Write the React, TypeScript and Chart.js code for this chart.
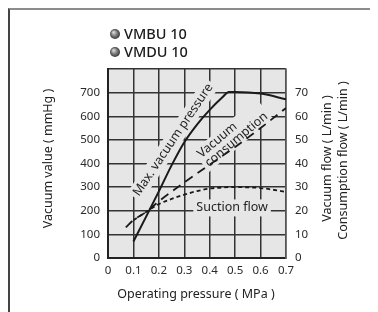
import React, { useEffect, useRef } from "react";
import { Chart, registerables } from "chart.js";

Chart.register(...registerables);

// ---- data ----
const legendItems = ["VMBU 10", "VMDU 10"];

const maxVacX = [0.1, 0.15, 0.2, 0.25, 0.3, 0.35, 0.4, 0.45, 0.475, 0.5, 0.6, 0.7];
const maxVacY = [70, 175, 282, 392, 490, 565, 627, 680, 703, 703, 696, 672];

const consX = [0.07, 0.1, 0.15, 0.2, 0.3, 0.4, 0.5, 0.6, 0.7];
const consY = [13, 16, 19.5, 24, 32, 39.5, 47, 55, 63.5];

const suctX = [0.1, 0.15, 0.2, 0.25, 0.3, 0.35, 0.4, 0.5, 0.6, 0.7];
const suctY = [16, 19.5, 22.8, 25, 26.8, 28.3, 29.4, 30, 29.6, 28];

const leftTicks = [0, 100, 200, 300, 400, 500, 600, 700];
const rightTicks = [0, 10, 20, 30, 40, 50, 60, 70];
const xTicks = [0, 0.1, 0.2, 0.3, 0.4, 0.5, 0.6, 0.7];

const leftTitle = "Vacuum value ( mmHg )";
const rightTitles = ["Vacuum flow ( L/min )", "Consumption flow ( L/min )"];
const bottomTitle = "Operating pressure ( MPa )";

const FONT = '"Noto Sans", "Open Sans", sans-serif';
const PLOT_BG = "#e6e6e6";
const TEXT = "#222";

const toPts = (xs: number[], ys: number[]) => xs.map((x, i) => ({ x, y: ys[i] }));

function drawBoxedText(
  ctx: CanvasRenderingContext2D,
  lines: string[],
  cx: number,
  cy: number,
  angleDeg: number,
  lineH: number,
  align: "center" | "left"
) {
  ctx.save();
  ctx.translate(cx, cy);
  ctx.rotate((angleDeg * Math.PI) / 180);
  ctx.font = `12.5px ${FONT}`;
  const widths = lines.map((l) => ctx.measureText(l).width);
  const maxW = Math.max(...widths);
  const totalH = lineH * lines.length;
  ctx.fillStyle = PLOT_BG;
  ctx.fillRect(-maxW / 2 - 3, -totalH / 2 - 1, maxW + 6, totalH + 2);
  ctx.fillStyle = TEXT;
  ctx.textBaseline = "middle";
  lines.forEach((l, i) => {
    const y = -totalH / 2 + lineH * (i + 0.5);
    if (align === "center") {
      ctx.textAlign = "center";
      ctx.fillText(l, 0, y);
    } else {
      ctx.textAlign = "left";
      ctx.fillText(l, -maxW / 2, y);
    }
  });
  ctx.restore();
}

const bgPlugin = {
  id: "plotBg",
  beforeDraw(chart: any) {
    const { ctx, chartArea } = chart;
    const { left, top, right, bottom } = chartArea;
    ctx.save();
    ctx.fillStyle = PLOT_BG;
    ctx.fillRect(left, top, right - left, bottom - top);
    ctx.restore();
  },
};

const labelPlugin = {
  id: "curveLabels",
  beforeDatasetsDraw(chart: any) {
    const { ctx, scales } = chart;
    const x = scales.x;
    const yl = scales.y;
    const yr = scales.y2;
    drawBoxedText(ctx, ["Max. vacuum pressure"], x.getPixelForValue(0.256), yl.getPixelForValue(500), -56, 15, "center");
    drawBoxedText(ctx, ["Vacuum", "consumption"], x.getPixelForValue(0.49), yr.getPixelForValue(52), -40, 12, "left");
    drawBoxedText(ctx, ["Suction flow"], x.getPixelForValue(0.488), yr.getPixelForValue(21.2), 0, 15, "center");
  },
};

const decorPlugin = {
  id: "decor",
  afterDraw(chart: any) {
    const { ctx, chartArea } = chart;
    const { left, top, right, bottom } = chartArea;
    ctx.save();
    // legend
    legendItems.forEach((t, i) => {
      const bx = 105;
      const by = 24 + i * 18;
      const g = ctx.createRadialGradient(bx - 1.5, by - 1.8, 0.5, bx, by, 5.5);
      g.addColorStop(0, "#d8d8d8");
      g.addColorStop(0.5, "#7a7a7a");
      g.addColorStop(1, "#2e2e2e");
      ctx.fillStyle = g;
      ctx.beginPath();
      ctx.arc(bx, by, 5, 0, Math.PI * 2);
      ctx.fill();
      ctx.fillStyle = "#1a1a1a";
      ctx.font = `500 14.5px ${FONT}`;
      ctx.textAlign = "left";
      ctx.textBaseline = "middle";
      ctx.fillText(t, bx + 9, by + 0.5);
    });
    // axis titles
    const midY = (top + bottom) / 2;
    ctx.fillStyle = TEXT;
    ctx.font = `12.5px ${FONT}`;
    ctx.textAlign = "center";
    ctx.textBaseline = "middle";
    const vt = (txt: string, cx: number, cy: number) => {
      ctx.save();
      ctx.translate(cx, cy);
      ctx.rotate(-Math.PI / 2);
      ctx.fillText(txt, 0, 0);
      ctx.restore();
    };
    vt(leftTitle, left - 60, midY - 5);
    vt(rightTitles[0], right + 41, midY - 5);
    vt(rightTitles[1], right + 57, midY - 3);
    ctx.fillText(bottomTitle, (left + right) / 2 - 1, bottom + 36);
    ctx.restore();
  },
};

export default function App() {
  const ref = useRef<HTMLCanvasElement | null>(null);

  useEffect(() => {
    if (!ref.current) return;
    const gridColor = "#333";
    const chart = new Chart(ref.current, {
      type: "line",
      data: {
        datasets: [
          {
            label: "Max. vacuum pressure",
            data: toPts(maxVacX, maxVacY),
            yAxisID: "y",
            borderColor: "#1a1a1a",
            borderWidth: 2,
            pointRadius: 0,
            cubicInterpolationMode: "monotone",
          },
          {
            label: "Vacuum consumption",
            data: toPts(consX, consY),
            yAxisID: "y2",
            borderColor: "#1a1a1a",
            borderWidth: 1.8,
            borderDash: [9, 6],
            pointRadius: 0,
            cubicInterpolationMode: "monotone",
          },
          {
            label: "Suction flow",
            data: toPts(suctX, suctY),
            yAxisID: "y2",
            borderColor: "#1a1a1a",
            borderWidth: 1.8,
            borderDash: [4, 3],
            pointRadius: 0,
            cubicInterpolationMode: "monotone",
          },
        ],
      },
      options: {
        responsive: false,
        animation: false,
        devicePixelRatio: 1,
        layout: { padding: { top: 59, left: 0, right: 0, bottom: 0 } },
        plugins: { legend: { display: false }, title: { display: false }, tooltip: { enabled: false } },
        scales: {
          x: {
            type: "linear",
            min: 0,
            max: 0.7,
            afterFit: (s: any) => { s.height = 54; },
            afterBuildTicks: (s: any) => { s.ticks = xTicks.map((v) => ({ value: v })); },
            ticks: {
              padding: 6,
              color: "#2a2a2a",
              font: { family: FONT, size: 11.5 },
              maxRotation: 0,
              callback: (v: any) => (Number(v) === 0 ? "0" : Number(v).toFixed(1)),
            },
            grid: { color: gridColor, lineWidth: 1.5, drawTicks: false },
            border: { color: "#222", width: 2 },
          },
          y: {
            type: "linear",
            position: "left",
            min: 0,
            max: 800,
            afterFit: (s: any) => { s.width = 98; },
            afterBuildTicks: (s: any) => { s.ticks = [...leftTicks, 800].map((v) => ({ value: v })); },
            ticks: {
              padding: 8,
              color: "#2a2a2a",
              font: { family: FONT, size: 11.5 },
              callback: (v: any) => (leftTicks.includes(Number(v)) ? String(v) : ""),
            },
            grid: { color: gridColor, lineWidth: 1.5, drawTicks: false },
            border: { color: "#222", width: 2 },
          },
          y2: {
            type: "linear",
            position: "right",
            min: 0,
            max: 80,
            afterFit: (s: any) => { s.width = 92; },
            afterBuildTicks: (s: any) => { s.ticks = [...rightTicks, 80].map((v) => ({ value: v })); },
            ticks: {
              padding: 9,
              color: "#2a2a2a",
              font: { family: FONT, size: 11.5 },
              callback: (v: any) => (rightTicks.includes(Number(v)) ? String(v) : ""),
            },
            grid: { display: false, drawTicks: false },
            border: { color: "#555", width: 1.5 },
          },
        },
      },
      plugins: [bgPlugin, labelPlugin, decorPlugin],
    } as any);
    return () => chart.destroy();
  }, []);

  return (
    <div
      style={{
        width: 368,
        height: 302,
        borderTop: "2px solid #8c8c8c",
        borderLeft: "2px solid #444",
        background: "#fff",
      }}
    >
      <canvas ref={ref} width={368} height={302} style={{ display: "block" }} />
    </div>
  );
}
